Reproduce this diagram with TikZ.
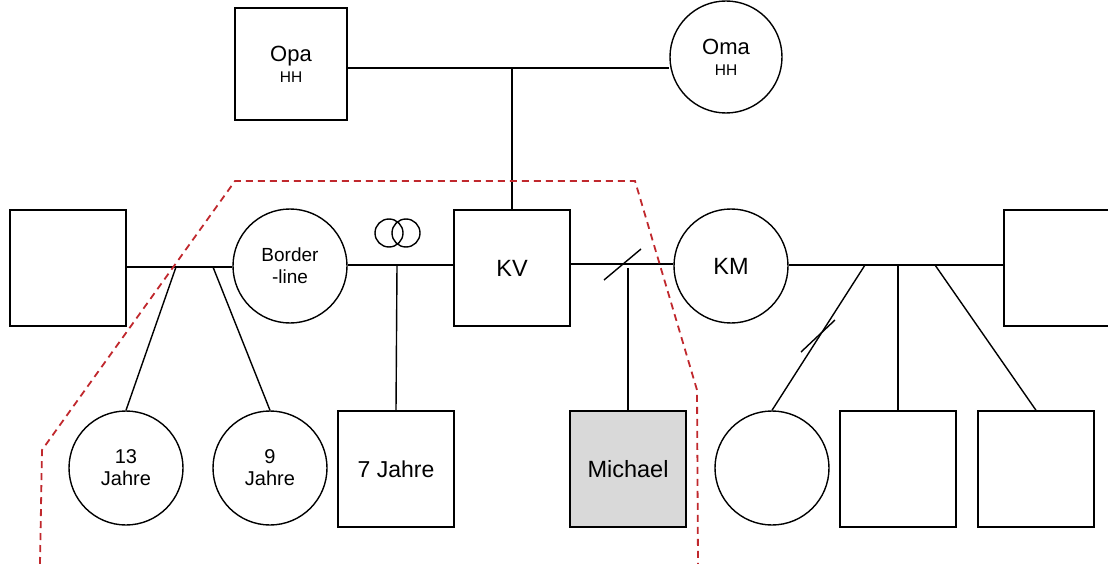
\documentclass[tikz,border=0pt]{standalone}
\usepackage{fontspec}
\setmainfont{Liberation Sans}
\usepackage{tikz}
\usetikzlibrary{positioning}
\definecolor{borderred}{HTML}{C0282D}
\definecolor{indexgray}{HTML}{D9D9D9}

\begin{document}
\begin{tikzpicture}[
        x=1pt, y=-1pt,
        line width=1.4pt,
        male/.style={draw, rectangle, minimum size=116pt, inner sep=0pt, align=center,
          font=\fontsize{23.5}{26}\selectfont},
        female/.style={draw, circle, minimum size=114pt, inner sep=0pt, align=center,
          font=\fontsize{20}{22}\selectfont},
        index/.style={male, fill=indexgray},
        tie/.style={line width=1.4pt},
        sep/.style={line width=1.4pt},
        system/.style={draw=borderred, line width=1.8pt, dash pattern=on 7pt off 5pt},
      ]
        \useasboundingbox (0,0) rectangle (1108,564);

        % Grandparents
        \node[male, minimum size=112pt, font=\fontsize{22}{24}\selectfont] (opa) at (291, 64)
          {Opa\\[-3pt]{\fontsize{15.5}{17}\selectfont HH}};
        \node[female, minimum size=112pt, font=\fontsize{22}{24}\selectfont] (oma) at (726, 57)
          {Oma\\[-3pt]{\fontsize{15.5}{17}\selectfont HH}};
        \draw[tie] (opa.east |- 0,68) coordinate (gp1) -- (oma.west |- 0,68) coordinate (gp2);
        \coordinate (gpmid) at (512, 68);

        % Parents row
        \node[male] (ex) at (68, 268) {};
        \node[female, font=\fontsize{19}{22}\selectfont] (bl) at (290, 266) {Border\\-line};
        \node[male] (kv) at (512, 268) {KV};
        \node[female, font=\fontsize{23.5}{26}\selectfont] (km) at (731, 266) {KM};
        \node[male] (exr) at (1062, 268) {};
        \draw[tie] (gpmid) -- (kv);

        % Couple lines
        \draw[tie] (ex.east |- 0,267) -- (bl.west |- 0,267);
        \draw[tie] (bl.east |- 0,265) -- (kv.west |- 0,265);
        \draw[tie] (kv.east |- 0,264) -- (km.west |- 0,264);
        \draw[tie] (km.east |- 0,265) -- (exr.west |- 0,265);

        % Children
        \node[female] (c13) at (126, 468) {13\\Jahre};
        \node[female] (c9) at (270, 468) {9\\Jahre};
        \node[male, font=\fontsize{23}{26}\selectfont] (c7) at (396, 469) {7 Jahre};
        \node[index] (mich) at (628, 469) {Michael};
        \node[female] (kw) at (772, 468) {};
        \node[male] (ks1) at (898, 469) {};
        \node[male] (ks2) at (1036, 469) {};

        \coordinate (j13) at (176, 267);
        \coordinate (j9) at (213, 267);
        \coordinate (j7) at (397, 265);
        \coordinate (jm) at (628, 268);
        \coordinate (jw) at (865, 265);
        \coordinate (js1) at (898, 265);
        \coordinate (js2) at (935, 265);
        \draw[tie] (j13) -- (c13.north);
        \draw[tie] (j9) -- (c9.north);
        \draw[tie] (j7) -- (c7.north);
        \draw[tie] (jm) -- (mich.north);
        \draw[tie] (jw) -- (kw.north);
        \draw[tie] (js1) -- (ks1.north);
        \draw[tie] (js2) -- (ks2.north);

        % Separation marks
        \coordinate (sep1) at (622.5, 264.5);
        \draw[sep] ([shift={(-18.5,15.5)}]sep1) -- ([shift={(18.5,-15.5)}]sep1);
        \coordinate (sep2) at (818, 336);
        \draw[sep] ([shift={(-17,16)}]sep2) -- ([shift={(17,-16)}]sep2);

        % Rings
        \draw (389, 233) circle (14);
        \draw (406, 233) circle (14);

        % Household border
        \draw[system] (40, 564) -- (42, 450) -- (235, 181) -- (635, 181) -- (697, 390) -- (698, 564);
      \end{tikzpicture}
\end{document}
